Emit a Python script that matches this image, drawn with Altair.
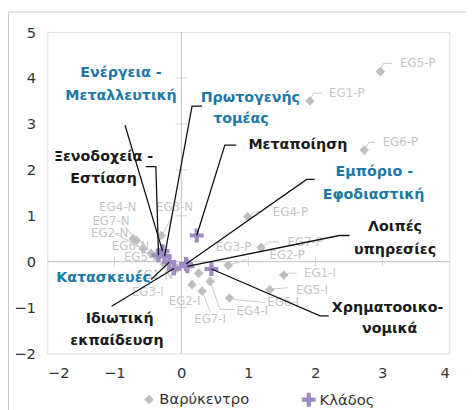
import altair as alt
import pandas as pd

FONT = "DejaVu Sans"
GRAY_PT = "#bfbfbf"
GRAY_TXT = "#c4c4c4"
PURPLE = "#9f8bc4"
BLUE = "#1c79a6"
DARK = "#1a1a1a"

# ---- centroids (Βαρύκεντρο) ----
cent_names = ["EG5-P", "EG1-P", "EG6-P", "EG4-P", "EG7-P", "EG2-P", "EG3-P",
              "EG1-I", "EG5-I", "EG6-I", "EG4-I", "EG7-I", "EG2-I", "EG3-I",
              "EG4-N", "EG3-N", "EG7-N", "EG2-N", "EG6-N", "EG5-N", "EG1-N"]
cent_x = [2.97, 1.92, 2.73, 0.99, 1.19, 0.70, 0.26,
          1.53, 1.32, 0.72, 0.43, 0.31, 0.16, -0.06,
          -0.72, -0.30, -0.67, -0.57, -0.45, -0.35, -0.25]
cent_y = [4.14, 3.50, 2.43, 0.98, 0.31, -0.08, -0.25,
          -0.29, -0.61, -0.79, -0.43, -0.64, -0.50, -0.14,
          0.50, 0.57, 0.46, 0.28, 0.18, 0.08, -0.05]
cent_lab_x = [3.53, 2.47, 3.27, 1.63, 1.85, 1.58, 0.78,
              2.07, 1.95, 1.52, 1.06, 0.43, 0.05, -0.50,
              -0.95, -0.10, -1.05, -1.07, -0.76, -0.58, -0.40]
cent_lab_y = [4.32, 3.67, 2.60, 1.08, 0.43, 0.14, 0.32,
              -0.25, -0.61, -0.89, -1.08, -1.25, -0.86, -0.67,
              1.18, 1.18, 0.89, 0.62, 0.33, 0.10, -0.29]

# gray leader lines of centroid labels
glead_id = ["EG5-P"] * 3 + ["EG1-P"] * 3 + ["EG6-P"] * 3 + ["EG4-P"] * 3 + ["EG7-P"] * 3 + \
           ["EG2-P"] * 2 + ["EG1-I"] * 3 + ["EG5-I"] * 3 + ["EG6-I"] * 3 + ["EG4-I"] * 3 + \
           ["EG7-I"] * 2 + ["EG3-N"] * 2 + ["EG7-N"] * 2 + ["EG2-N"] * 2
glead_x = [2.97, 3.02, 3.14, 1.92, 1.97, 2.09, 2.73, 2.80, 2.89, 0.99, 1.09, 1.21, 1.19, 1.31, 1.46,
           0.70, 0.98, 1.53, 1.61, 1.72, 1.32, 1.38, 1.60, 0.72, 0.82, 1.25, 0.43, 0.58, 0.80,
           0.31, 0.43, -0.28, -0.13, -0.67, -0.89, -0.57, -0.99]
glead_y = [4.14, 4.32, 4.32, 3.50, 3.67, 3.67, 2.43, 2.60, 2.60, 0.98, 1.09, 1.09, 0.31, 0.43, 0.43,
           -0.08, 0.05, -0.29, -0.25, -0.25, -0.61, -0.59, -0.57, -0.79, -0.83, -0.89, -0.43, -1.04, -1.04,
           -0.64, -1.08, 0.60, 1.00, 0.46, 0.85, 0.28, 0.61]

# ---- sectors (Κλάδος) ----
sect_names = ["Ενέργεια - Μεταλλευτική", "Πρωτογενής τομέας", "Ξενοδοχεία - Εστίαση",
              "Μεταποίηση", "Εμπόριο - Εφοδιαστική", "Λοιπές υπηρεσίες",
              "Χρηματοοικονομικά", "Κατασκευές", "Ιδιωτική εκπαίδευση"]
sect_x = [-0.28, -0.25, -0.34, 0.23, 0.07, 0.09, 0.45, -0.18, -0.11]
sect_y = [0.23, 0.12, 0.14, 0.57, -0.05, -0.10, -0.16, -0.01, -0.15]

# black leader lines of sector labels
blead_id = ["ene"] * 2 + ["xen"] * 3 + ["pro"] * 3 + ["met"] * 3 + ["emp"] * 3 + \
           ["loi"] * 3 + ["xri"] * 3 + ["kat"] * 2 + ["idi"] * 2
blead_x = [-0.84, -0.28, -0.53, -0.38, -0.34, 0.31, 0.16, -0.25, 0.82, 0.65, 0.23,
           1.99, 1.87, 0.07, 2.51, 2.36, 0.09, 2.20, 2.07, 0.45, -0.45, -0.18, -1.04, -0.11]
blead_y = [2.97, 0.23, 2.07, 2.07, 0.14, 3.39, 3.39, 0.12, 2.54, 2.54, 0.57,
           1.79, 1.79, -0.05, 0.57, 0.57, -0.10, -1.18, -1.18, -0.16, -0.39, -0.01, -0.97, -0.15]

# sector label lines
slab_text = ["Ενέργεια -", "Μεταλλευτική", "Πρωτογενής", "τομέας", "Ξενοδοχεία -", "Εστίαση",
             "Μεταποίηση", "Εμπόριο -", "Εφοδιαστική", "Λοιπές", "υπηρεσίες",
             "Χρηματοοικο-", "νομικά", "Κατασκευές", "Ιδιωτική", "εκπαίδευση"]
slab_x = [-0.90, -0.90, 1.03, 0.89, -1.16, -1.16, 1.74, 2.88, 2.87, 3.19, 3.19,
          3.08, 3.11, -1.16, -0.92, -0.96]
slab_y = [4.10, 3.60, 3.56, 3.10, 2.28, 1.79, 2.53, 1.96, 1.46, 0.75, 0.26,
          -1.00, -1.46, -0.36, -1.25, -1.72]
slab_col = [BLUE, BLUE, BLUE, BLUE, DARK, DARK, DARK, BLUE, BLUE, DARK, DARK,
            DARK, DARK, BLUE, DARK, DARK]

x_ticks = [-2, -1, 0, 1, 2, 3, 4]
y_ticks = [-2, -1, 0, 1, 2, 3, 4, 5]

CROSS = "M-1,-0.3H-0.3V-1H0.3V-0.3H1V0.3H0.3V1H-0.3V0.3H-1Z"

xs = alt.Scale(domain=[-2, 4], nice=False, zero=False)
ys = alt.Scale(domain=[-2, 5], nice=False, zero=False)

XAX = alt.Axis(values=x_ticks, grid=False, domain=False, ticks=False, title=None,
               labelPadding=12, labelFontSize=15, labelFont=FONT, labelColor="#333333")
YAX = alt.Axis(values=y_ticks, grid=False, domain=False, ticks=False, title=None,
               labelPadding=12, labelFontSize=15, labelFont=FONT, labelColor="#333333")

def X(f="x"):
    return alt.X(f, type="quantitative", scale=xs, axis=XAX)

def Y(f="y"):
    return alt.Y(f, type="quantitative", scale=ys, axis=YAX)

# frame of whole chart
frame_l = alt.Chart(pd.DataFrame({"a": [0]})).mark_rule(color="#c8c8c8", strokeWidth=1).encode(
    x=alt.value(-39.5), y=alt.value(-20.5), y2=alt.value(430))
frame_t = alt.Chart(pd.DataFrame({"a": [0]})).mark_rule(color="#c8c8c8", strokeWidth=1).encode(
    x=alt.value(-39.5), x2=alt.value(426), y=alt.value(-20.5))

zero_v = alt.Chart(pd.DataFrame({"x": [0]})).mark_rule(color="#bfbfbf", strokeWidth=1).encode(x=X())
zero_h = alt.Chart(pd.DataFrame({"y": [0]})).mark_rule(color="#bfbfbf", strokeWidth=1).encode(y=Y())

tick_x = alt.Chart(pd.DataFrame({"x": [v for v in x_ticks if v not in (-2, 0, 4)], "y": 0})).mark_tick(
    orient="vertical", size=10, thickness=1, color="#bfbfbf").encode(x=X(), y=Y())
tick_y = alt.Chart(pd.DataFrame({"x": 0, "y": [v for v in y_ticks if v not in (-2, 0, 5)]})).mark_tick(
    orient="horizontal", size=12, thickness=1, color="#bfbfbf").encode(x=X(), y=Y())

gl = pd.DataFrame({"id": glead_id, "x": glead_x, "y": glead_y})
gl["k"] = range(len(gl))
gray_lead = alt.Chart(gl).mark_line(color="#c8c8c8", strokeWidth=1).encode(
    x=X(), y=Y(), detail="id:N", order="k:Q")

clab = pd.DataFrame({"t": cent_names, "x": cent_lab_x, "y": cent_lab_y})
cent_text = alt.Chart(clab).mark_text(font=FONT, fontSize=12, color=GRAY_TXT,
                                      align="center", baseline="middle").encode(
    x=X(), y=Y(), text="t:N")

pts = pd.concat([
    pd.DataFrame({"x": cent_x, "y": cent_y, "series": "Βαρύκεντρο"}),
    pd.DataFrame({"x": sect_x, "y": sect_y, "series": "Κλάδος"}),
], ignore_index=True)
pts["k"] = range(len(pts))

dom = ["Βαρύκεντρο", "Κλάδος"]
points = alt.Chart(pts).mark_point(filled=True, opacity=1, strokeWidth=0).encode(
    x=X(), y=Y(),
    color=alt.Color("series:N", scale=alt.Scale(domain=dom, range=[GRAY_PT, PURPLE]),
                    legend=alt.Legend(title=None, orient="none", legendX=96, legendY=366,
                                      direction="horizontal", columnPadding=52,
                                      labelFont=FONT, labelFontSize=15, labelColor="#333333",
                                      symbolSize=60, labelOffset=3, padding=0)),
    shape=alt.Shape("series:N", scale=alt.Scale(domain=dom, range=["diamond", CROSS])),
    size=alt.Size("series:N", scale=alt.Scale(domain=dom, range=[95, 200]), legend=None),
    order="k:Q",
)

bl = pd.DataFrame({"id": blead_id, "x": blead_x, "y": blead_y})
bl["k"] = range(len(bl))
black_lead = alt.Chart(bl).mark_line(color="#111111", strokeWidth=1.3).encode(
    x=X(), y=Y(), detail="id:N", order="k:Q")

sl = pd.DataFrame({"t": slab_text, "x": slab_x, "y": slab_y, "c": slab_col})
sect_text = alt.Chart(sl).mark_text(font=FONT, fontSize=14.5, fontWeight="bold",
                                    align="center", baseline="middle").encode(
    x=X(), y=Y(), text="t:N", color=alt.Color("c:N", scale=None))

chart = alt.layer(
    frame_l, frame_t, zero_v, zero_h, tick_x, tick_y, gray_lead, cent_text,
    points, black_lead, sect_text
).properties(
    width=409, height=327,
    autosize=alt.AutoSizeParams(type="none"),
    padding={"left": 40, "top": 21, "right": 18, "bottom": 56},
).configure_view(stroke="#bfbfbf", strokeWidth=1).configure(background="white")

chart.save("out.html", embed_options={"renderer": "svg", "actions": False})
